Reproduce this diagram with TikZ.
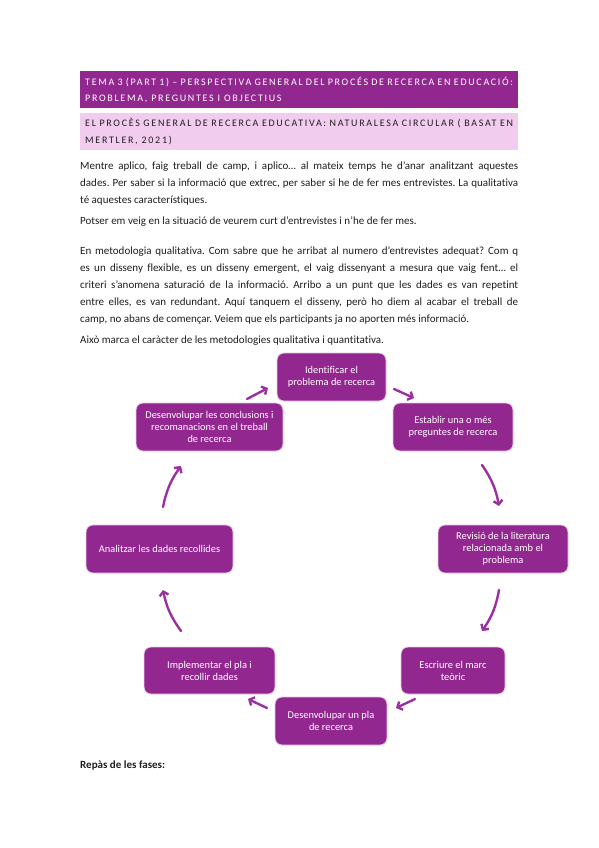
\documentclass[tikz,border=0pt]{standalone}
\usepackage{fontspec}
\setmainfont{Carlito}[Ligatures=NoCommon]
\usetikzlibrary{arrows.meta}
\definecolor{purp}{HTML}{92278F}
\definecolor{arrowc}{HTML}{9B30A0}
\definecolor{pinkbg}{HTML}{F2CCEE}
\definecolor{boxedge}{HTML}{E9CBE7}
\definecolor{bodytext}{HTML}{1E1E1E}
\frenchspacing
\begin{document}
\begin{tikzpicture}[x=1pt,y=-1pt,
  stepbox/.style={rounded corners=7pt, fill=purp, draw=boxedge, line width=0.8pt,
    text=white, align=center, inner sep=2pt,
    font=\fontsize{10.4}{12}\selectfont},
  flowarrow/.style={draw=arrowc, line width=2.4pt, line cap=round,
    -{Straight Barb[length=4pt,width=9pt]}},
  para/.style={anchor=north west, inner sep=0pt, text width=438pt, align=justify,
    text=bodytext, font=\fontsize{11}{17}\selectfont},
  headtxt/.style={anchor=north west, inner xsep=5pt, inner ysep=0pt, text width=428pt,
    align=justify, minimum height=37pt}
]
\useasboundingbox[fill=white] (0,0) rectangle (599,848);

% headers
\node[headtxt, fill=purp, text=white,
  font=\fontsize{10}{16}\selectfont\addfontfeatures{LetterSpace=17}] (h1) at (80,71)
  {TEMA 3 (PART 1) – PERSPECTIVA GENERAL DEL PROCÉS DE RECERCA EN EDUCACIÓ:\linebreak PROBLEMA, PREGUNTES I OBJECTIUS};
\node[headtxt, fill=pinkbg, text=bodytext,
  font=\fontsize{10}{17}\selectfont\addfontfeatures{LetterSpace=17}] (h2) at (80,113)
  {EL PROCÈS GENERAL DE RECERCA EDUCATIVA: NATURALESA CIRCULAR ( BASAT EN\linebreak MERTLER, 2021)};

% paragraphs
\node[para] (p1) at (80,162)
  {Mentre aplico, faig treball de camp, i aplico… al mateix temps he d’anar analitzant aquestes\linebreak dades. Per saber si la informació que extrec, per saber si he de fer mes entrevistes. La qualitativa\linebreak té aquestes característiques.};
\node[para] (p2) at (80,217)
  {Potser em veig en la situació de veurem curt d’entrevistes i n’he de fer mes.};
\node[para] (p3) at (80,247)
  {En metodologia qualitativa. Com sabre que he arribat al numero d’entrevistes adequat? Com q\linebreak es un disseny flexible, es un disseny emergent, el vaig dissenyant a mesura que vaig fent… el\linebreak criteri s’anomena saturació de la informació. Arribo a un punt que les dades es van repetint\linebreak entre elles, es van redundant. Aquí tanquem el disseny, però ho diem al acabar el treball de\linebreak camp, no abans de començar. Veiem que els participants ja no aporten més informació.};
\node[para] (p4) at (80,336)
  {Això marca el caràcter de les metodologies qualitativa i quantitativa.};
\node[para, font=\fontsize{11}{17}\selectfont\bfseries] (p5) at (80,761)
  {Repàs de les fases:};

% cycle nodes
\node[stepbox, minimum width=109pt, minimum height=48pt] (n1) at (331.5,377)
  {Identificar el\\problema de recerca};
\node[stepbox, minimum width=120pt, minimum height=48pt] (n2) at (453,427)
  {Establir una o més\\preguntes de recerca};
\node[stepbox, minimum width=130pt, minimum height=48pt] (n3) at (503,549)
  {Revisió de la literatura\\relacionada amb el\\problema};
\node[stepbox, minimum width=104pt, minimum height=47pt] (n4) at (453,670.5)
  {Escriure el marc\\teòric};
\node[stepbox, minimum width=112pt, minimum height=48pt] (n5) at (331,721)
  {Desenvolupar un pla\\de recerca};
\node[stepbox, minimum width=131pt, minimum height=47pt] (n6) at (209.5,670.5)
  {Implementar el pla i\\recollir dades};
\node[stepbox, minimum width=147pt, minimum height=48pt] (n7) at (159.5,549)
  {Analitzar les dades recollides};
\node[stepbox, minimum width=147pt, minimum height=48pt] (n8) at (209.5,427)
  {Desenvolupar les conclusions i\\recomanacions en el treball\\de recerca};

% arrow end points
\coordinate (a81) at (247,399); \coordinate (a18) at (268,388);
\coordinate (a12) at (394,389); \coordinate (a21) at (414,398);
\coordinate (a23) at (482,465); \coordinate (a32) at (499,506);
\coordinate (a34) at (499,590); \coordinate (a43) at (482,631);
\coordinate (a45) at (415,699); \coordinate (a54) at (396,708);
\coordinate (a56) at (267,708); \coordinate (a65) at (248,699);
\coordinate (a67) at (181,631); \coordinate (a76) at (163,590);
\coordinate (a78) at (163,507); \coordinate (a87) at (181,466);

\draw[flowarrow] (a81) -- (a18);
\draw[flowarrow] (a12) -- (a21);
\draw[flowarrow] (a23) to[bend left=12] (a32);
\draw[flowarrow] (a34) to[bend left=12] (a43);
\draw[flowarrow] (a45) -- (a54);
\draw[flowarrow] (a56) -- (a65);
\draw[flowarrow] (a67) to[bend left=12] (a76);
\draw[flowarrow] (a78) to[bend left=12] (a87);
\end{tikzpicture}
\end{document}
